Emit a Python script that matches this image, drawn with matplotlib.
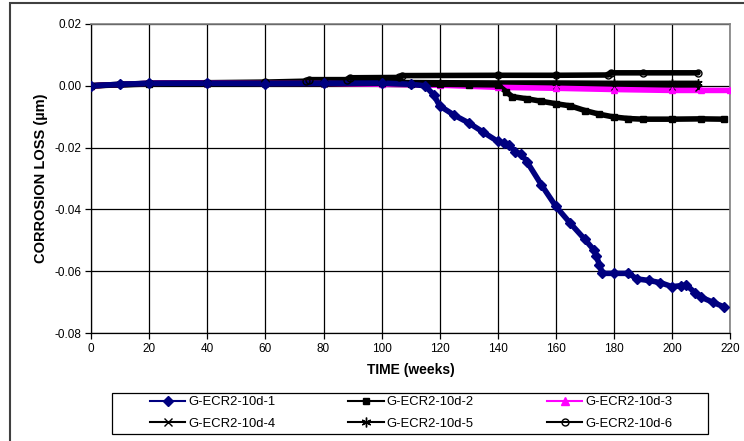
import matplotlib
matplotlib.use('Agg')
import matplotlib.pyplot as plt
from matplotlib.lines import Line2D
from matplotlib.patches import Rectangle

plt.rcParams['font.family'] = ['Liberation Sans', 'DejaVu Sans']
plt.rcParams['axes.unicode_minus'] = False

# data
t1 = [0, 10, 20, 40, 60, 80, 100, 110, 115, 118, 120, 125, 130, 135, 140, 142,
      144, 146, 148, 150, 155, 160, 165, 170, 173, 174, 175, 176, 180, 185, 188,
      192, 196, 200, 203, 205, 208, 210, 214, 218]
v1 = [0.0, 0.0005, 0.0008, 0.0008, 0.0007, 0.0008, 0.0009, 0.0005, 0.0, -0.003,
      -0.0065, -0.0095, -0.012, -0.015, -0.018, -0.0185, -0.019, -0.0215, -0.022,
      -0.0245, -0.032, -0.039, -0.0445, -0.0497, -0.053, -0.055, -0.058, -0.0607,
      -0.0607, -0.0607, -0.0625, -0.063, -0.0637, -0.065, -0.0647, -0.0645,
      -0.067, -0.0684, -0.0700, -0.0716]

t2 = [0, 20, 40, 60, 80, 100, 110, 120, 130, 140, 143, 145, 150, 155, 160, 165,
      170, 175, 180, 185, 190, 200, 210, 218]
v2 = [0.0, 0.0007, 0.0008, 0.0008, 0.0008, 0.0008, 0.0006, 0.0005, 0.0004,
      0.0003, -0.002, -0.0035, -0.0042, -0.005, -0.0058, -0.0065, -0.0080,
      -0.0092, -0.0101, -0.0106, -0.0108, -0.0108, -0.0107, -0.0108]

t3 = [0, 20, 40, 60, 80, 100, 120, 140, 160, 180, 200, 210, 220]
v3 = [0.0, 0.0008, 0.0009, 0.0008, 0.0008, 0.0005, 0.0002, -0.0005, -0.0008,
      -0.0012, -0.0015, -0.0015, -0.0015]

t4 = [0, 20, 40, 60, 80, 100, 120, 140, 160, 180, 200, 209]
v4 = [0.0, 0.0006, 0.0007, 0.0007, 0.0006, 0.0005, 0.0003, 0.0001, 0.0,
      -0.0003, -0.0005, -0.0006]

t5 = [0, 20, 40, 60, 80, 100, 120, 140, 160, 180, 200, 209]
v5 = [0.0, 0.0008, 0.0009, 0.0009, 0.0010, 0.0011, 0.0010, 0.0009, 0.0009,
      0.0008, 0.0008, 0.0008]

t6 = [0, 10, 20, 40, 60, 74, 75, 88, 89, 106, 107, 140, 160, 178, 179, 190, 209]
v6 = [0.0, 0.0005, 0.0008, 0.001, 0.0012, 0.0015, 0.002, 0.002, 0.0026, 0.0027,
      0.0033, 0.0034, 0.0034, 0.0035, 0.0042, 0.0042, 0.0042]

labels = ['G-ECR2-10d-1', 'G-ECR2-10d-2', 'G-ECR2-10d-3',
          'G-ECR2-10d-4', 'G-ECR2-10d-5', 'G-ECR2-10d-6']

fig = plt.figure(figsize=(7.44, 4.41), dpi=100)
W, H = 744, 441

# outer chart border (clipped by the image at right and bottom)
fig.patches.append(Rectangle((10 / W, -0.1), 1.2, 1 - 3 / H + 0.1,
                             transform=fig.transFigure, fill=False,
                             edgecolor='#404040', linewidth=1.5))

ax = fig.add_axes([91.3 / W, 1 - 333 / H, (730 - 91.3) / W, (333 - 24) / H])

series = [
    (t4, v4, 'black', 'x', 5),
    (t5, v5, 'black', (6, 2, 0), 6),
    (t6, v6, 'black', 'o', 5),
    (t3, v3, '#ff00ff', '^', 5),
    (t2, v2, 'black', 's', 4),
    (t1, v1, '#000080', 'D', 5),
]
for t, v, c, m, ms in series:
    ax.plot(t, v, color=c, linewidth=4, solid_capstyle='round', zorder=3)
    ax.plot(t, v, color=c, linestyle='none', marker=m, markersize=ms,
            markerfacecolor=c if m != 'o' else 'none', markeredgecolor=c,
            zorder=4)

ax.set_xlim(0, 220)
ax.set_ylim(-0.08, 0.02)
ax.set_xticks(range(0, 221, 20))
yt = [-0.08, -0.06, -0.04, -0.02, 0.0, 0.02]
ax.set_yticks(yt)
ax.set_yticklabels(['%.2f' % y for y in yt])
ax.grid(True, color='black', linewidth=0.9)
ax.set_axisbelow(True)
ax.tick_params(direction='out', length=4, width=0.9, color='black',
               labelsize=8.5, pad=3)
for side in ['top', 'right']:
    ax.spines[side].set_color('#808080')
    ax.spines[side].set_linewidth(1.2)
for side in ['left', 'bottom']:
    ax.spines[side].set_color('black')
    ax.spines[side].set_linewidth(0.9)

ax.set_xlabel('TIME (weeks)', fontsize=10, fontweight='bold', labelpad=6)
ax.set_ylabel('CORROSION LOSS (µm)', fontsize=10.5, fontweight='bold',
              labelpad=5)

handles = [
    Line2D([], [], color='#000080', marker='D', markersize=5),
    Line2D([], [], color='black', marker='s', markersize=4),
    Line2D([], [], color='#ff00ff', marker='^', markersize=6),
    Line2D([], [], color='black', marker='x', markersize=6),
    Line2D([], [], color='black', marker=(6, 2, 0), markersize=7),
    Line2D([], [], color='black', marker='o', markersize=5,
           markerfacecolor='none'),
]
# legend frame drawn separately, entries placed inside it
fig.patches.append(Rectangle((112 / W, 1 - 434 / H), (708 - 112) / W,
                             (434 - 393) / H, transform=fig.transFigure,
                             fill=False, edgecolor='black', linewidth=0.9))
# matplotlib fills legend column-wise; reorder so rows read 1-2-3 / 4-5-6
order = [0, 3, 1, 4, 2, 5]
fig.legend([handles[i] for i in order], [labels[i] for i in order],
           ncol=3, loc='upper left', bbox_to_anchor=(150 / W, 1 - 396 / H),
           fontsize=9.4, frameon=False, handlelength=2.7,
           handletextpad=0.23, columnspacing=5.6, borderpad=0,
           labelspacing=0.72, borderaxespad=0)

fig.savefig('out.png', dpi=100)
